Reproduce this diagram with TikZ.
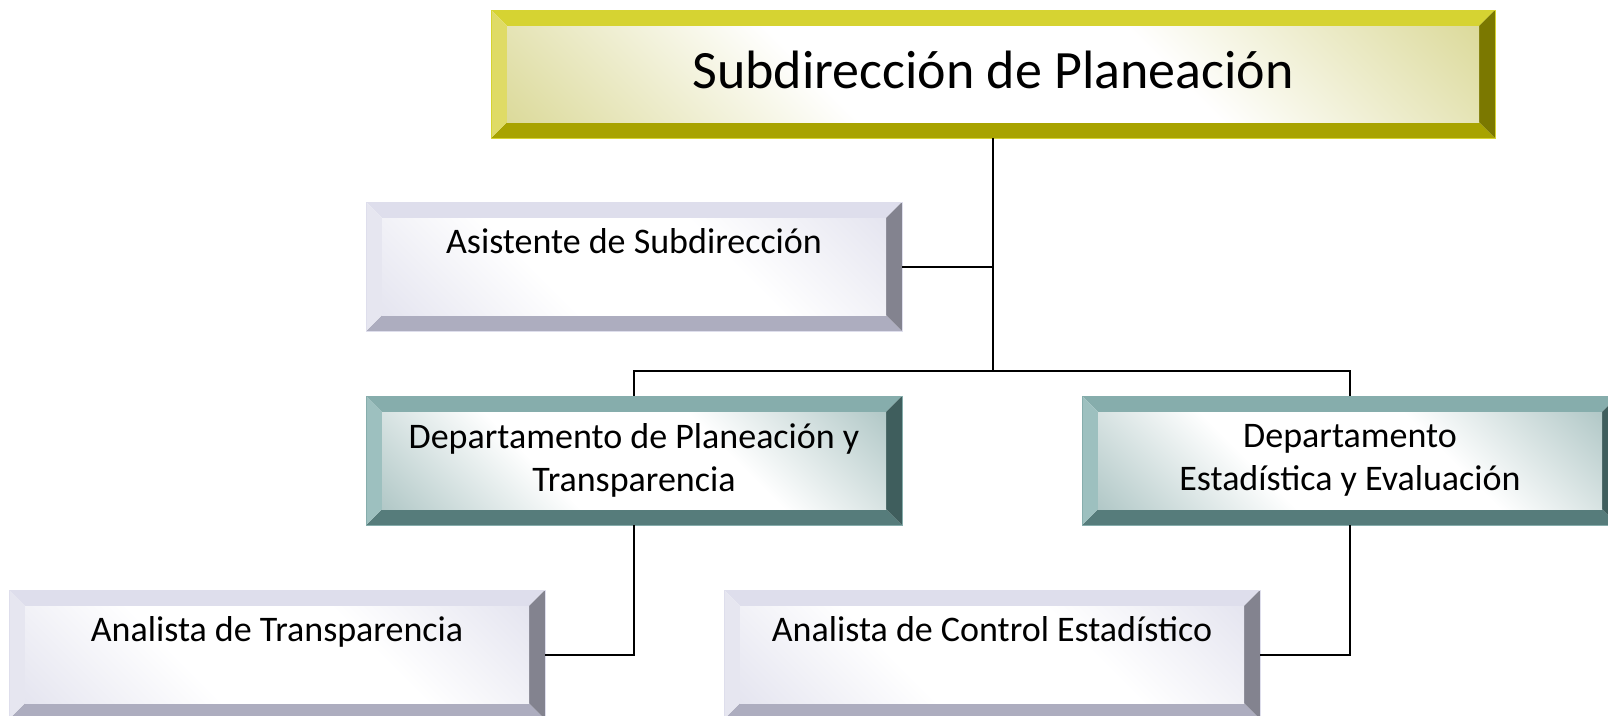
\documentclass[tikz,border=0pt]{standalone}
\usepackage{fontspec}
\setmainfont{Carlito}
\usetikzlibrary{calc}
% yellow
\definecolor{ytop}{HTML}{D6D332}
\definecolor{yleft}{HTML}{DFDB66}
\definecolor{ybot}{HTML}{A8A300}
\definecolor{yright}{HTML}{7B7800}
\definecolor{ytint}{HTML}{D8D690}
% lavender
\definecolor{ltop}{HTML}{DEDEEC}
\definecolor{lleft}{HTML}{E6E6F0}
\definecolor{lbot}{HTML}{ADADBF}
\definecolor{lright}{HTML}{83838F}
\definecolor{ltint}{HTML}{E2E2EE}
% teal
\definecolor{ttop}{HTML}{86ADAC}
\definecolor{tleft}{HTML}{9DC0BF}
\definecolor{tbot}{HTML}{567C7B}
\definecolor{tright}{HTML}{3F5E5D}
\definecolor{ttint}{HTML}{A9C2C1}
\pgfdeclarehorizontalshading{yface}{100bp}{color(0bp)=(ytint); color(12bp)=(ytint); color(38bp)=(white); color(62bp)=(white); color(88bp)=(ytint); color(100bp)=(ytint)}
\pgfdeclarehorizontalshading{lface}{100bp}{color(0bp)=(ltint); color(12bp)=(ltint); color(38bp)=(white); color(62bp)=(white); color(88bp)=(ltint); color(100bp)=(ltint)}
\pgfdeclarehorizontalshading{tface}{100bp}{color(0bp)=(ttint); color(12bp)=(ttint); color(38bp)=(white); color(62bp)=(white); color(88bp)=(ttint); color(100bp)=(ttint)}
\begin{document}
\begin{tikzpicture}[x=1pt,y=-1pt,
  bbox/.style={rectangle, inner sep=0pt, draw=#1top, line width=0.8pt,
    minimum width=536pt, minimum height=129pt, text=black, align=center,
    font=\fontsize{36}{43}\selectfont,
    path picture={
      \fill[#1top] (path picture bounding box.north west) -- (path picture bounding box.north east)
        -- ([shift={(-16pt,-16pt)}]path picture bounding box.north east)
        -- ([shift={(16pt,-16pt)}]path picture bounding box.north west) -- cycle;
      \fill[#1bot] (path picture bounding box.south west) -- (path picture bounding box.south east)
        -- ([shift={(-16pt,16pt)}]path picture bounding box.south east)
        -- ([shift={(16pt,16pt)}]path picture bounding box.south west) -- cycle;
      \fill[#1left] (path picture bounding box.north west) -- (path picture bounding box.south west)
        -- ([shift={(16pt,16pt)}]path picture bounding box.south west)
        -- ([shift={(16pt,-16pt)}]path picture bounding box.north west) -- cycle;
      \fill[#1right] (path picture bounding box.north east) -- (path picture bounding box.south east)
        -- ([shift={(-16pt,16pt)}]path picture bounding box.south east)
        -- ([shift={(-16pt,-16pt)}]path picture bounding box.north east) -- cycle;
      \shade[shading=#1face, shading angle=45]
        ([shift={(16pt,-16pt)}]path picture bounding box.north west)
        rectangle ([shift={(-16pt,16pt)}]path picture bounding box.south east);
    }},
  oneline/.style={text height=26pt, text depth=52pt},
  conn/.style={draw=black, line width=2pt}
]
\useasboundingbox (0,0) rectangle (1608,715);

\node[bbox=y, minimum width=1004pt, minimum height=128pt,
      font=\fontsize{54}{60}\selectfont, text height=40pt, text depth=12pt]
      (top) at (993,74) {Subdirección de Planeación};
\node[bbox=l, oneline] (asis) at (634,266.5) {Asistente de Subdirección};
\node[bbox=t] (dpt) at (634,460.5) {Departamento de Planeación y\\Transparencia};
\node[bbox=t] (dee) at (1350,460.5) {Departamento\\Estadística y Evaluación};
\node[bbox=l, oneline] (ant) at (277,654.5) {Analista de Transparencia};
\node[bbox=l, oneline] (anc) at (992,654.5) {Analista de Control Estadístico};

\coordinate (hub) at (top.south |- 0,371);
\draw[conn] (top.south) -- (hub);
\draw[conn] (asis.east) -- (asis.east -| top.south);
\draw[conn] (dpt.north) |- (hub) -| (dee.north);
\draw[conn] (dpt.south) |- (ant.east);
\draw[conn] (dee.south) |- (anc.east);
\end{tikzpicture}
\end{document}
